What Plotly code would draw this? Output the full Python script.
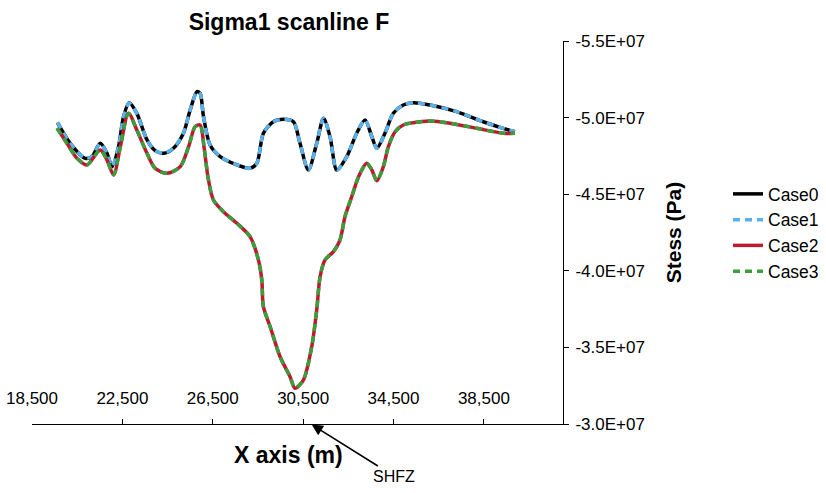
import plotly.graph_objects as go

# ---- data (stress in Pa, x in m) ----
x_case01 = [19630, 20190, 20860, 21150, 21520, 21820, 22040, 22330, 22550, 22800,
            23140, 23590, 23950, 24320, 24760, 25200, 25500, 25800, 25940, 26090,
            26380, 26830, 27570, 28150, 28450, 28740, 29180, 29630, 30070, 30360,
            30730, 31100, 31400, 31690, 31990, 32430, 32870, 33240, 33540, 33760,
            34120, 34490, 34930, 35370, 36110, 37290, 38470, 39350, 39870]
case0 = [-4.967e7, -4.832e7, -4.734e7, -4.745e7, -4.832e7, -4.767e7, -4.680e7, -4.810e7, -5.006e7, -5.097e7,
         -5.028e7, -4.854e7, -4.784e7, -4.767e7, -4.800e7, -4.898e7, -5.050e7, -5.170e7, -5.159e7, -5.006e7,
         -4.821e7, -4.745e7, -4.691e7, -4.669e7, -4.702e7, -4.898e7, -4.973e7, -4.989e7, -4.973e7, -4.832e7,
         -4.658e7, -4.832e7, -4.995e7, -4.875e7, -4.658e7, -4.745e7, -4.898e7, -4.984e7, -4.875e7, -4.800e7,
         -4.898e7, -5.028e7, -5.082e7, -5.097e7, -5.082e7, -5.039e7, -4.973e7, -4.930e7, -4.908e7]
case1 = [-4.970e7, -4.830e7, -4.736e7, -4.745e7, -4.830e7, -4.767e7, -4.682e7, -4.810e7, -5.004e7, -5.095e7,
         -5.028e7, -4.854e7, -4.784e7, -4.768e7, -4.800e7, -4.898e7, -5.050e7, -5.168e7, -5.157e7, -5.006e7,
         -4.821e7, -4.745e7, -4.691e7, -4.669e7, -4.702e7, -4.898e7, -4.973e7, -4.989e7, -4.973e7, -4.832e7,
         -4.658e7, -4.832e7, -4.995e7, -4.875e7, -4.658e7, -4.745e7, -4.898e7, -4.984e7, -4.875e7, -4.800e7,
         -4.898e7, -5.028e7, -5.082e7, -5.097e7, -5.082e7, -5.039e7, -4.973e7, -4.930e7, -4.908e7]

x_case23 = [19610, 20050, 20490, 20930, 21520, 21820, 22110, 22410, 22770, 23140,
            23590, 23950, 24470, 25060, 25430, 25720, 25940, 26120, 26300, 26530,
            26970, 27570, 28150, 28520, 28670, 28740, 29040, 29480, 29920, 30140,
            30510, 30880, 31100, 31250, 31470, 31840, 32130, 32350, 32650, 32870,
            33020, 33310, 33540, 33760, 34050, 34270, 34570, 34930, 35370, 36110,
            37000, 38180, 39350, 39870]
case2 = [-4.930e7, -4.832e7, -4.734e7, -4.691e7, -4.789e7, -4.723e7, -4.625e7, -4.810e7, -5.028e7, -4.919e7,
         -4.767e7, -4.669e7, -4.636e7, -4.680e7, -4.810e7, -4.941e7, -4.952e7, -4.800e7, -4.600e7, -4.462e7,
         -4.386e7, -4.310e7, -4.223e7, -4.071e7, -3.940e7, -3.766e7, -3.635e7, -3.439e7, -3.309e7, -3.233e7,
         -3.287e7, -3.505e7, -3.744e7, -3.962e7, -4.071e7, -4.125e7, -4.201e7, -4.353e7, -4.484e7, -4.582e7,
         -4.636e7, -4.702e7, -4.658e7, -4.588e7, -4.680e7, -4.810e7, -4.908e7, -4.952e7, -4.967e7, -4.978e7,
         -4.963e7, -4.930e7, -4.898e7, -4.898e7]
case3 = [-4.932e7, -4.830e7, -4.736e7, -4.691e7, -4.789e7, -4.723e7, -4.627e7, -4.810e7, -5.026e7, -4.919e7,
         -4.767e7, -4.669e7, -4.636e7, -4.680e7, -4.810e7, -4.941e7, -4.950e7, -4.800e7, -4.602e7, -4.462e7,
         -4.386e7, -4.310e7, -4.223e7, -4.071e7, -3.940e7, -3.766e7, -3.635e7, -3.439e7, -3.309e7, -3.235e7,
         -3.287e7, -3.505e7, -3.744e7, -3.962e7, -4.071e7, -4.125e7, -4.201e7, -4.353e7, -4.484e7, -4.582e7,
         -4.636e7, -4.702e7, -4.658e7, -4.588e7, -4.680e7, -4.810e7, -4.908e7, -4.952e7, -4.967e7, -4.978e7,
         -4.963e7, -4.930e7, -4.898e7, -4.898e7]

series_names = ["Case0", "Case1", "Case2", "Case3"]
y_tickvals = [-3.0e7, -3.5e7, -4.0e7, -4.5e7, -5.0e7, -5.5e7]
y_ticktext = ["-3.0E+07", "-3.5E+07", "-4.0E+07", "-4.5E+07", "-5.0E+07", "-5.5E+07"]
x_tickvals = [18500, 22500, 26500, 30500, 34500, 38500]
x_ticktext = ["18,500", "22,500", "26,500", "30,500", "34,500", "38,500"]

FONT = "Liberation Sans, Arial, Helvetica, sans-serif"

fig = go.Figure()
styles = [
    (x_case01, case0, "#000000", "solid"),
    (x_case01, case1, "#5AB0E8", "7px,5px"),
    (x_case23, case2, "#C0182F", "solid"),
    (x_case23, case3, "#3A9E3C", "7px,5px"),
]
for name, (xs, ys, col, dash) in zip(series_names, styles):
    fig.add_trace(go.Scatter(
        x=xs, y=ys, mode="lines", name=name, legendgroup=name,
        line=dict(color=col, width=3.5, dash=dash, shape="spline", smoothing=0.8),
    ))

fig.update_layout(
    width=826, height=493,
    margin=dict(l=32, r=263, t=41, b=69, autoexpand=False),
    paper_bgcolor="white", plot_bgcolor="white",
    font=dict(family=FONT, size=17, color="black"),
    title=dict(text="<b>Sigma1 scanline F</b>", font=dict(size=23, family=FONT, color="black"),
               x=289 / 826, xanchor="center", y=1 - 22 / 493, yanchor="middle"),
    legend=dict(xref="container", yref="container",
                x=728 / 826, xanchor="left", y=1 - 176 / 493, yanchor="top",
                font=dict(size=17.5, family=FONT, color="black"), tracegroupgap=0,
                bgcolor="rgba(0,0,0,0)"),
    showlegend=True,
)

fig.update_xaxes(
    range=[18500, 42000], showgrid=False, zeroline=False,
    showline=True, linecolor="black", linewidth=1,
    ticks="inside", ticklen=5, tickcolor="black",
    tickvals=x_tickvals, ticktext=x_ticktext,
    ticklabelposition="inside", ticklabeloverflow="allow", ticklabelstandoff=12,
    tickfont=dict(size=17, family=FONT, color="black"),
    automargin=False,
)
fig.update_yaxes(
    range=[-3.0e7, -5.5e7], side="right", showgrid=False, zeroline=False,
    showline=True, linecolor="black", linewidth=1,
    ticks="outside", ticklen=5, tickcolor="black",
    tickvals=y_tickvals, ticktext=y_ticktext, ticklabelstandoff=3,
    tickfont=dict(size=17, family=FONT, color="black"),
    title=dict(text="<b>Stess (Pa)</b>", font=dict(size=21, family=FONT, color="black"), standoff=22),
    automargin=False,
)

# x-axis title, placed slightly left of the plot centre as in the original
fig.add_annotation(
    x=(288 - 32) / 531, y=(424 - 455) / 383, xref="paper", yref="paper",
    text="<b>X axis (m)</b>", font=dict(size=23, family=FONT, color="black"),
    showarrow=False, xanchor="center", yanchor="middle",
)

fig.add_annotation(
    x=30840, y=-3.0e7, xref="x", yref="y",
    text="SHFZ", font=dict(size=16, family=FONT, color="black"),
    showarrow=True, arrowhead=2, arrowsize=1.4, arrowwidth=1.6, arrowcolor="black",
    ax=83, ay=52, standoff=1,
)

fig.write_html("out.html")
